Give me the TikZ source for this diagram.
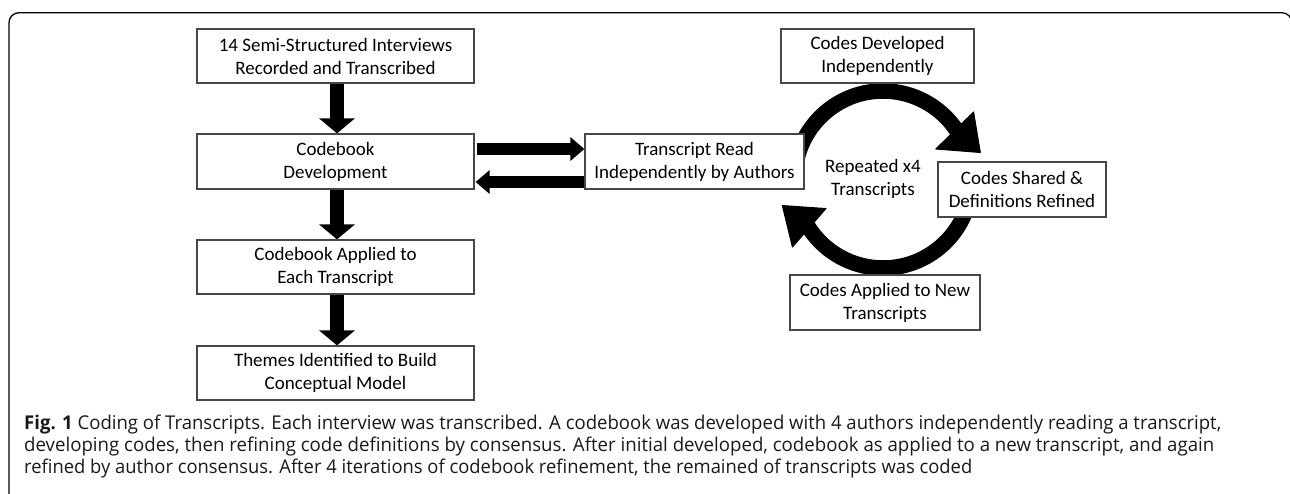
\documentclass[tikz,border=0pt]{standalone}
\usepackage{fontspec}
\usepackage{graphicx}
\setmainfont{Carlito}
\newfontfamily\capfont{Open Sans}
\usetikzlibrary{arrows.meta}
\begin{document}
\begin{tikzpicture}[x=1pt,y=-1pt,
  box/.style={draw=black!72, line width=1.2pt, fill=white, inner sep=0pt, align=center,
    font=\fontsize{19}{23}\selectfont},
  lbox/.style={box, minimum width=277pt, minimum height=54pt},
  blkv/.style={line width=14pt, -{Triangle[width=35pt,length=15pt]}},
  blkh/.style={line width=12pt, -{Triangle[width=23pt,length=14pt]}},
  ring/.style={line width=15.5pt},
  head/.style={fill=black, draw=black, line width=1pt, line join=round},
  captxt/.style={anchor=base west, inner sep=0pt, font=\capfont\fontsize{19}{22}\selectfont, text=black!90}
]
\useasboundingbox (0,0) rectangle (1290,493);
\clip (0,0) rectangle (1290,493);
% frame
\draw[line width=1.3pt, rounded corners=10pt] (9,540) -- (9,12.7) -- (1291.8,12.7) -- (1291.8,540);

% ring
\coordinate (rc) at (883,179.5);
\draw[ring] ([shift={(175:88.5pt)}]rc) arc[start angle=175, end angle=32, radius=88.5pt];
\draw[ring] ([shift={(-5:88.5pt)}]rc) arc[start angle=-5, end angle=-149, radius=88.5pt];
\filldraw[head] ([shift={(36.7:113pt)}]rc) -- ([shift={(30:61pt)}]rc) -- ([shift={(15.5:101pt)}]rc) -- cycle;
\filldraw[head] ([shift={(216.7:113pt)}]rc) -- ([shift={(207:64pt)}]rc) -- ([shift={(194.5:104pt)}]rc) -- cycle;

% left column
\node[lbox] (b1) at (335.5,56) {14 Semi-Structured Interviews\\Recorded and Transcribed};
\node[lbox, minimum height=55pt] (b2) at (335.5,161.5) {Codebook\\Development};
\node[lbox] (b3) at (335.5,267) {Codebook Applied to\\Each Transcript};
\node[lbox] (b4) at (335.5,373) {Themes Identified to Build\\Conceptual Model};

% cycle boxes
\node[box, minimum width=219pt, minimum height=55pt] (t) at (694.5,161.5) {Transcript Read\\Independently by Authors};
\node[box, minimum width=193pt, minimum height=54pt] (cd) at (877.5,56) {Codes Developed\\Independently};
\node[box, minimum width=168pt, minimum height=55pt] (cs) at (1022,189.5) {Codes Shared \&\\Definitions Refined};
\node[box, minimum width=190pt, minimum height=55pt] (ca) at (885,302.5) {Codes Applied to New\\Transcripts};
\node[align=center, inner sep=0pt, font=\fontsize{19}{23}\selectfont] (rep) at (873,179) {Repeated x4\\Transcripts};

% arrows
\draw[blkv] ([xshift=1.5pt]b1.south) -- ([xshift=1.5pt]b2.north);
\draw[blkv] ([xshift=1.5pt]b2.south) -- ([xshift=1.5pt]b3.north);
\draw[blkv] ([xshift=1.5pt]b3.south) -- ([xshift=1.5pt]b4.north);
\draw[blkh] ([shift={(2pt,12.5pt)}]b2.east) -- ([yshift=12.5pt]t.west);
\draw[blkh] ([yshift=-20.5pt]t.west) -- ([shift={(1pt,-20.5pt)}]b2.east);

% caption
\node[captxt] (c1) at (24,429) {\resizebox{1197pt}{\height}{\textbf{Fig. 1} Coding of Transcripts. Each interview was transcribed. A codebook was developed with 4 authors independently reading a transcript,}};
\node[captxt] (c2) at (24,451) {\resizebox{1190pt}{\height}{developing codes, then refining code definitions by consensus. After initial developed, codebook as applied to a new transcript, and again}};
\node[captxt] (c3) at (24,473) {\resizebox{948pt}{\height}{refined by author consensus. After 4 iterations of codebook refinement, the remained of transcripts was coded}};
\end{tikzpicture}
\end{document}
